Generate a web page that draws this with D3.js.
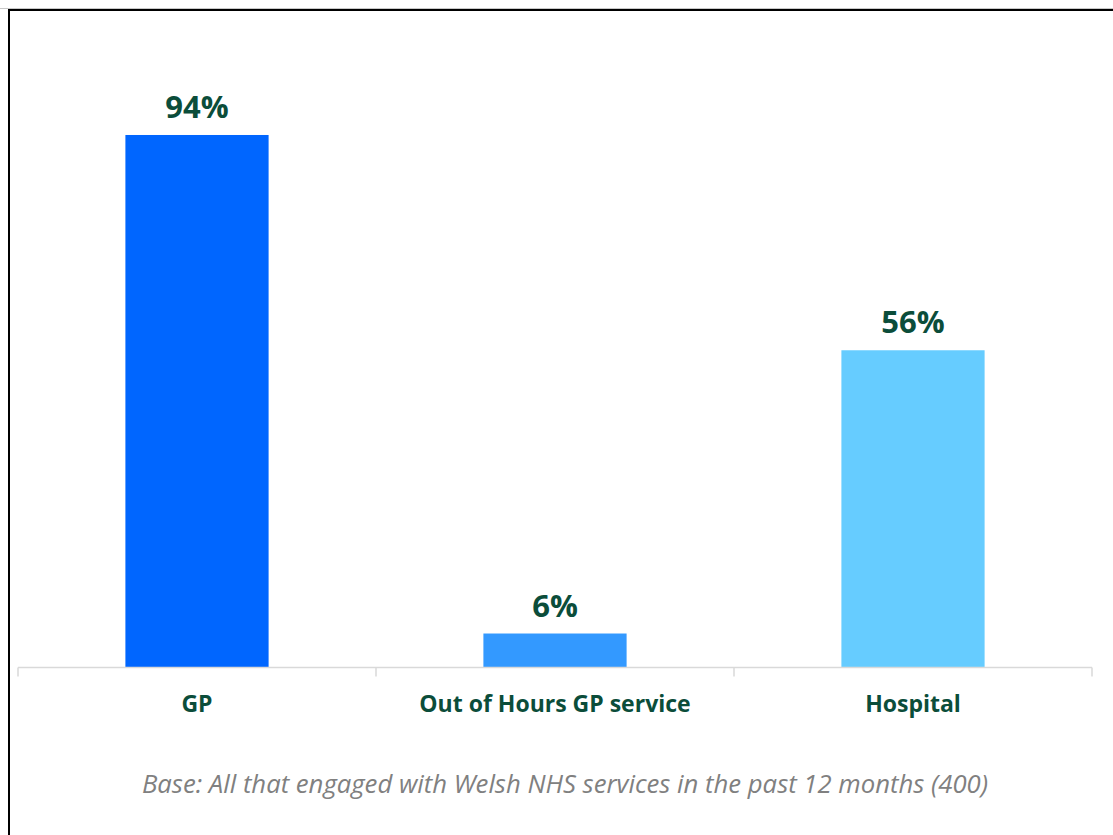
<!DOCTYPE html>
<html>
<head>
<meta charset="utf-8">
<script src="https://cdn.jsdelivr.net/npm/d3@7/dist/d3.min.js"></script>
<style>
  html, body { margin: 0; padding: 0; background: #fff; }
  svg { display: block; }
</style>
</head>
<body>
<script>
// Services used in the past 12 months (share of respondents)
const categories = ["GP", "Out of Hours GP service", "Hospital"];
const values = [94, 6, 56];
const valueLabels = ["94%", "6%", "56%"];
const barColors = ["#0066ff", "#3399ff", "#66ccff"];
const footnote = "Base: All that engaged with Welsh NHS services in the past 12 months (400)";

const W = 1113, H = 835;
const svg = d3.select("body").append("svg").attr("width", W).attr("height", H);

svg.append("rect").attr("width", W).attr("height", H).attr("fill", "#fff");

// Frame around the chart area
svg.append("line").attr("x1", 0).attr("x2", W).attr("y1", 8.5).attr("y2", 8.5)
  .attr("stroke", "#c8c8c8").attr("stroke-width", 1);
svg.append("rect")
  .attr("x", 9).attr("y", 10).attr("width", W + 20).attr("height", H + 20)
  .attr("fill", "none").attr("stroke", "#000").attr("stroke-width", 2);

const plot = { left: 18, right: 1092, top: 101, bottom: 667.5 };

const x = d3.scaleBand()
  .domain(categories)
  .range([plot.left, plot.right])
  .paddingInner(0.6)
  .paddingOuter(0.3);

const y = d3.scaleLinear().domain([0, 100]).range([plot.bottom, plot.top]);

const green = "#0b4d3a";

// Bars
svg.selectAll("rect.bar")
  .data(categories)
  .join("rect")
  .attr("class", "bar")
  .attr("x", d => x(d))
  .attr("width", x.bandwidth())
  .attr("y", (d, i) => y(values[i]))
  .attr("height", (d, i) => y(0) - y(values[i]))
  .attr("fill", (d, i) => barColors[i]);

// Category axis with tick marks between categories
const step = (plot.right - plot.left) / categories.length;
const axisG = svg.append("g");
axisG.append("line")
  .attr("x1", plot.left).attr("x2", plot.right)
  .attr("y1", plot.bottom).attr("y2", plot.bottom)
  .attr("stroke", "#d9d9d9").attr("stroke-width", 1.5);
axisG.selectAll("line.tick")
  .data(d3.range(categories.length + 1))
  .join("line")
  .attr("class", "tick")
  .attr("x1", i => plot.left + i * step).attr("x2", i => plot.left + i * step)
  .attr("y1", plot.bottom).attr("y2", plot.bottom + 9)
  .attr("stroke", "#d9d9d9").attr("stroke-width", 1.5);

axisG.selectAll("text.cat")
  .data(categories)
  .join("text")
  .attr("class", "cat")
  .attr("x", d => x(d) + x.bandwidth() / 2)
  .attr("y", 712)
  .attr("text-anchor", "middle")
  .attr("font-family", "'Open Sans', sans-serif")
  .attr("font-weight", 700)
  .attr("font-size", 23)
  .attr("fill", green)
  .text(d => d);

// Value labels above bars
svg.selectAll("text.val")
  .data(categories)
  .join("text")
  .attr("class", "val")
  .attr("x", d => x(d) + x.bandwidth() / 2)
  .attr("y", (d, i) => y(values[i]) - 17)
  .attr("text-anchor", "middle")
  .attr("font-family", "'Open Sans', sans-serif")
  .attr("font-weight", 700)
  .attr("font-size", 31)
  .attr("fill", green)
  .text((d, i) => valueLabels[i]);

// Base note
svg.append("text")
  .attr("x", (plot.left + plot.right) / 2 + 10)
  .attr("y", 793)
  .attr("text-anchor", "middle")
  .attr("font-family", "'Open Sans', sans-serif")
  .attr("font-style", "italic")
  .attr("font-size", 25.7)
  .attr("fill", "#808080")
  .text(footnote);
</script>
</body>
</html>
